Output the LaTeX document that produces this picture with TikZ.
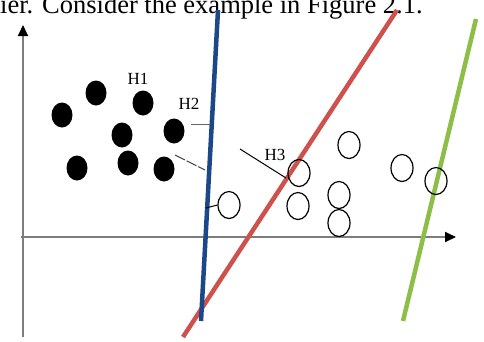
\documentclass[tikz,border=0pt]{standalone}
\usepackage{fontspec}
\setmainfont{Liberation Serif}
\usetikzlibrary{shapes.geometric,arrows.meta}
\definecolor{hblue}{RGB}{28,72,135}
\definecolor{hred}{RGB}{205,82,78}
\definecolor{hgreen}{RGB}{140,190,72}
\definecolor{axisgray}{RGB}{125,125,125}
\tikzset{
  dotnode/.style={ellipse,fill=black,draw=none,minimum width=21pt,minimum height=25pt,inner sep=0pt},
  ringnode/.style={ellipse,draw=black,line width=1.2pt,minimum width=22pt,minimum height=27pt,inner sep=0pt},
  axisline/.style={draw=axisgray,line width=1.8pt,-{Triangle[length=11pt,width=10pt,fill=black,color=black]}},
  hyper/.style={line width=4.5pt},
  lbl/.style={font=\fontsize{17}{17}\selectfont,inner sep=0pt},
  pointer/.style={line width=1pt}
}
\begin{document}
\begin{tikzpicture}[x=1pt,y=-1pt]
\useasboundingbox (0,0) rectangle (484,341);
\clip (0,0) rectangle (484,341);
% top caption fragment
\node[anchor=base west,inner sep=0pt,font=\fontsize{26.5}{26.5}\selectfont] (cap) at (0,13.5) {ier. Consider the example in Figure 2.1.};
% axes
\coordinate (o) at (23,237);
\coordinate (ybot) at (23,337);
\coordinate (ytop) at (23,25);
\coordinate (xleft) at (21,237);
\coordinate (xright) at (456,237);
\draw[draw=axisgray,line width=1.8pt] (ybot) -- (o);
\draw[axisline] (o) -- (ytop);
\draw[axisline] (xleft) -- (xright);
% hyperplanes
\coordinate (b1) at (218,10);
\coordinate (b2) at (201,321);
\coordinate (r1) at (397,10);
\coordinate (r2) at (183,337);
\coordinate (g1) at (476,19);
\coordinate (g2) at (403,321);
\draw[hyper,hgreen] (g1) -- (g2);
\draw[hyper,hred] (r1) -- (r2);
\draw[hyper,hblue] (b1) -- (b2);
% filled points
\node[dotnode] (d1) at (62,115) {};
\node[dotnode] (d2) at (96,93) {};
\node[dotnode] (d3) at (143,103) {};
\node[dotnode] (d4) at (122,135) {};
\node[dotnode] (d5) at (174,131) {};
\node[dotnode] (d6) at (77,168) {};
\node[dotnode] (d7) at (128,163) {};
\node[dotnode] (d8) at (164,169) {};
% open points
\node[ringnode] (c1) at (229,205) {};
\node[ringnode] (c2) at (299,173) {};
\node[ringnode] (c3) at (298,206) {};
\node[ringnode] (c4) at (349,145) {};
\node[ringnode] (c5) at (339,195) {};
\node[ringnode] (c6) at (339,223) {};
\node[ringnode] (c7) at (402,168) {};
\node[ringnode] (c8) at (436,181) {};
% labels
\node[lbl] (h1) at (138,79) {H1};
\node[lbl] (h2) at (189,104) {H2};
\node[lbl] (h3) at (275,155) {H3};
% pointers
\coordinate (p2a) at (191,124);
\coordinate (p2b) at (210,124);
\draw[pointer,axisgray!80!black] (p2a) -- (p2b);
\coordinate (pda) at (175,155);
\coordinate (pdb) at (205,170);
\draw[pointer,black!75,dash pattern=on 11pt off 2pt] (pda) -- (pdb);
\coordinate (pc1) at (206,208);
\draw[pointer,black] (pc1) -- (c1.west);
\coordinate (p3a) at (240,149);
\coordinate (p3b) at (286,178);
\draw[pointer,black] (p3a) -- (p3b);
\end{tikzpicture}
\end{document}
